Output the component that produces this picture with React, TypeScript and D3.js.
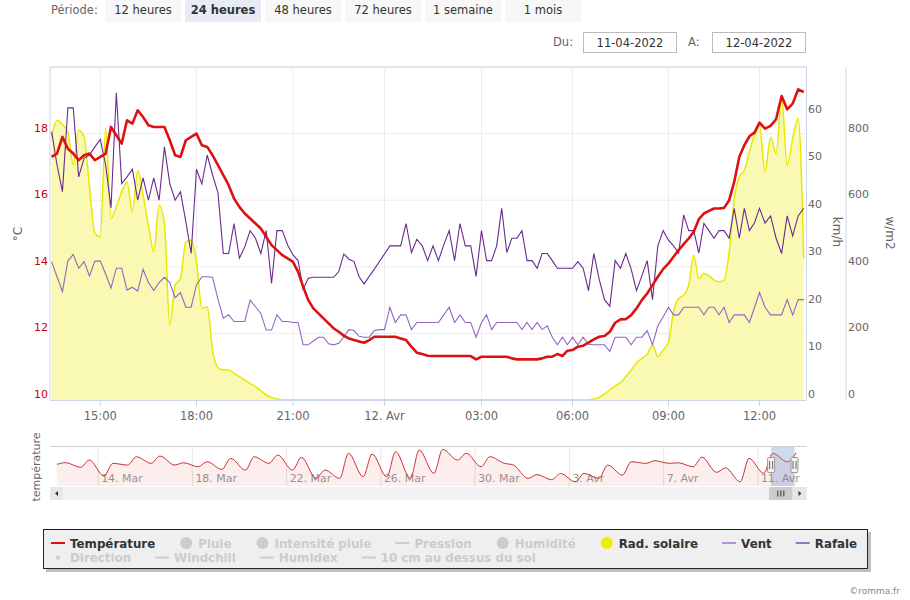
import React, { useEffect, useRef } from 'react';
import * as d3 from 'd3';

const FONT = "'DejaVu Sans', Verdana, sans-serif";

// relevés toutes les 10 minutes, du 11/04/2022 13:30 au 12/04/2022 13:20
const SERIES_START = new Date(2022, 3, 11, 13, 30);
const STEP_MINUTES = 10;

const temperature = [
  17.3, 17.4, 17.9, 17.55, 17.4, 17.2, 17.35, 17.4, 17.2, 17.3,
  17.4, 18.2, 17.95, 17.7, 18.4, 18.3, 18.7, 18.5, 18.25, 18.2,
  18.2, 18.2, 17.8, 17.35, 17.3, 17.8, 17.9, 18.0, 17.65, 17.6,
  17.35, 17.05, 16.75, 16.45, 16.05, 15.8, 15.6, 15.45, 15.3, 15.15,
  14.9, 14.65, 14.5, 14.35, 14.25, 14.15, 13.85, 13.4, 13.0, 12.75,
  12.6, 12.45, 12.3, 12.15, 12.05, 11.93, 11.85, 11.8, 11.76, 11.72,
  11.8, 11.9, 11.9, 11.9, 11.9, 11.9, 11.85, 11.8, 11.6, 11.42,
  11.38, 11.33, 11.32, 11.32, 11.32, 11.32, 11.32, 11.32, 11.32, 11.32,
  11.22, 11.3, 11.3, 11.3, 11.3, 11.3, 11.3, 11.25, 11.22, 11.22,
  11.22, 11.22, 11.22, 11.25, 11.3, 11.3, 11.38, 11.32, 11.48, 11.5,
  11.6, 11.63, 11.72, 11.82, 11.9, 11.92, 12.05, 12.32, 12.42, 12.43,
  12.55, 12.75, 13.0, 13.2, 13.45, 13.7, 13.93, 14.1, 14.3, 14.5,
  14.68, 14.85, 15.05, 15.43, 15.6, 15.68, 15.75, 15.75, 15.77, 16.0,
  16.55, 17.3, 17.65, 17.92, 18.03, 18.33, 18.15, 18.23, 18.43, 19.13,
  18.73, 18.9, 19.33, 19.25,
];

const rafale = [
  56.4, 49.4, 43.8, 61.4, 61.4, 46.9, 50.8, 51.5, 53.2, 54.8,
  49.4, 40.4, 64.6, 45.5, 46.9, 48.5, 42.0, 46.7, 42.0, 46.7,
  42.0, 53.2, 45.5, 42.0, 43.8, 37.5, 30.8, 48.5, 45.4, 51.5,
  47.3, 43.6, 30.8, 30.8, 37.1, 29.8, 32.2, 35.6, 34.0, 30.8,
  35.6, 24.5, 35.6, 35.6, 32.6, 30.5, 29.3, 23.3, 25.6, 25.8,
  25.8, 25.8, 25.8, 25.8, 27.0, 30.7, 29.6, 29.1, 25.9, 24.4,
  26.0, 27.5, 29.1, 30.7, 32.4, 32.4, 32.4, 37.1, 31.0, 33.8,
  32.4, 29.3, 32.4, 29.3, 32.6, 35.6, 29.3, 37.1, 32.4, 32.4,
  26.0, 35.6, 29.3, 29.3, 32.4, 40.3, 31.0, 34.0, 34.0, 35.6,
  29.3, 29.3, 27.7, 30.8, 30.8, 29.3, 27.7, 27.7, 27.7, 27.7,
  29.1, 27.7, 23.0, 30.8, 25.4, 21.1, 19.7, 29.3, 27.7, 30.8,
  27.5, 23.0, 26.1, 29.3, 21.1, 32.4, 35.6, 33.6, 32.4, 30.9,
  38.9, 35.6, 35.6, 30.9, 37.1, 35.6, 34.0, 35.6, 35.6, 34.0,
  40.3, 34.0, 40.3, 35.6, 37.2, 40.3, 37.2, 38.7, 34.0, 30.8,
  38.7, 34.5, 38.7, 40.3,
];

const vent = [
  29.1, 25.9, 22.8, 29.2, 30.6, 27.7, 29.1, 26.1, 29.2, 29.2,
  26.5, 23.5, 27.7, 27.7, 23.1, 23.7, 22.9, 27.5, 24.7, 23.0,
  24.7, 25.8, 24.7, 21.5, 22.6, 19.5, 19.5, 24.2, 25.9, 25.9,
  25.8, 21.2, 17.2, 17.9, 16.5, 16.5, 16.5, 21.0, 19.6, 18.2,
  14.7, 14.7, 17.9, 16.5, 16.5, 16.3, 16.3, 11.6, 11.6, 12.4,
  13.2, 13.2, 11.8, 11.6, 11.9, 13.3, 14.8, 14.6, 13.4, 13.2,
  13.2, 14.6, 14.8, 14.8, 19.5, 16.3, 17.9, 17.9, 14.8, 16.3,
  16.3, 16.3, 16.3, 16.3, 17.9, 19.5, 16.3, 17.9, 16.3, 16.3,
  13.2, 16.3, 17.9, 14.8, 16.3, 16.3, 16.3, 16.3, 16.3, 14.8,
  16.3, 14.8, 16.3, 14.8, 15.6, 13.2, 11.6, 13.2, 11.6, 13.2,
  11.6, 13.2, 11.7, 11.6, 11.6, 11.6, 10.2, 13.2, 13.2, 13.2,
  11.6, 13.2, 13.2, 14.6, 11.6, 15.6, 17.5, 19.5, 17.9, 17.9,
  19.5, 19.5, 19.5, 19.5, 17.9, 19.5, 19.5, 17.9, 19.5, 16.3,
  17.9, 17.9, 17.9, 16.3, 19.4, 22.6, 19.5, 17.9, 17.9, 17.9,
  21.1, 17.9, 21.1, 21.1,
];

const radSolaire = [
  790, 840, 827, 805, 707, 810, 790, 640, 500, 490,
  815, 545, 580, 625, 655, 565, 690, 615, 525, 445,
  585, 530, 225, 345, 365, 475, 480, 415, 275, 280,
  150, 97, 90, 90, 80, 70, 60, 50, 40, 28,
  15, 8, 3, 0, 0, 0, 0, 0, 0, 0,
  0, 0, 0, 0, 0, 0, 0, 0, 0, 0,
  0, 0, 0, 0, 0, 0, 0, 0, 0, 0,
  0, 0, 0, 0, 0, 0, 0, 0, 0, 0,
  0, 0, 0, 0, 0, 0, 0, 0, 0, 0,
  0, 0, 0, 0, 0, 0, 0, 0, 0, 0,
  0, 0, 0, 3, 8, 18, 30, 42, 52, 70,
  90, 112, 125, 137, 165, 130, 150, 175, 265, 305,
  315, 345, 435, 365, 380, 373, 360, 355, 360, 445,
  605, 670, 690, 745, 795, 825, 685, 790, 740, 910,
  705, 785, 845, 425,
];

const tempTicks = [10, 12, 14, 16, 18];
const ventTicks = [0, 10, 20, 30, 40, 50, 60];
const radTicks = [0, 200, 400, 600, 800];

const xTickDates = [
  new Date(2022, 3, 11, 15), new Date(2022, 3, 11, 18), new Date(2022, 3, 11, 21),
  new Date(2022, 3, 12, 0), new Date(2022, 3, 12, 3), new Date(2022, 3, 12, 6),
  new Date(2022, 3, 12, 9), new Date(2022, 3, 12, 12),
];
const xTickLabels = ['15:00', '18:00', '21:00', '12. Avr', '03:00', '06:00', '09:00', '12:00'];

// navigateur : température mini (06h) / maxi (15h) par jour, à partir du 12 mars
const NAV_START = new Date(2022, 2, 12);
const navMin = [
  9, 6.4, -1.3, 8.4, 9.9, 8.4, 6.9, 4.6, 4.0, 9.9,
  4.0, -3.3, -3.3, -1.9, -1.9, -3.3, 1.1, 12.8, 6.9, 9.9,
  -3.3, -4.5, -6.3, -3.3, -0.4, 9.9, 9.9, 6.9, 2.0, -6.3,
  1.1, 11.2,
];
const navMax = [
  10.5, 12.8, 9.9, 15.7, 16.3, 10.4, 11.3, 14.3, 15.7, 17.2,
  15.2, 4.0, 18.7, 18.1, 20.1, 21.6, 22.2, 18.7, 15.7, 8.4,
  0, 1, 1, 8.4, 11.3, 12.2, 10.4, 15.2, 6.0, 14.3,
  18.7, 19.3,
];
const navTickDates = [
  new Date(2022, 2, 14), new Date(2022, 2, 18), new Date(2022, 2, 22), new Date(2022, 2, 26),
  new Date(2022, 2, 30), new Date(2022, 3, 3), new Date(2022, 3, 7), new Date(2022, 3, 11),
];
const navTickLabels = ['14. Mar', '18. Mar', '22. Mar', '26. Mar', '30. Mar', '3. Avr', '7. Avr', '11. Avr'];

const periodes = ['12 heures', '24 heures', '48 heures', '72 heures', '1 semaine', '1 mois'];
const periodeActive = '24 heures';

const legendRow1 = [
  { name: 'Température', symbol: 'line', on: true },
  { name: 'Pluie', symbol: 'circle', on: false },
  { name: 'Intensité pluie', symbol: 'circle', on: false },
  { name: 'Pression', symbol: 'line', on: false },
  { name: 'Humidité', symbol: 'circle', on: false },
  { name: 'Rad. solaire', symbol: 'circle', on: true },
  { name: 'Vent', symbol: 'line', on: true },
  { name: 'Rafale', symbol: 'line', on: true },
];
const legendRow2 = [
  { name: 'Direction', symbol: 'dot', on: false },
  { name: 'Windchill', symbol: 'line', on: false },
  { name: 'Humidex', symbol: 'line', on: false },
  { name: '10 cm au dessus du sol', symbol: 'line', on: false },
];

const COLORS = {
  'Température': '#dd1111',
  'Rad. solaire': '#eeee00',
  'Vent': '#b394d8',
  'Rafale': '#9a76c6',
};

const App = () => {
  const svgRef = useRef<SVGSVGElement>(null);

  useEffect(() => {
    const svg = d3.select(svgRef.current);
    svg.selectAll('*').remove();

    const left = 50;
    const right = 806.5;
    const top = 67;
    const bottom = 400;

    const times = temperature.map((_, i) => d3.timeMinute.offset(SERIES_START, i * STEP_MINUTES));

    // axe "ordinal" de Highstock : espacement un peu irrégulier entre les repères
    const x = d3.scaleTime()
      .domain([new Date(2022, 3, 11, 13, 27), ...xTickDates, new Date(2022, 3, 12, 13, 25)])
      .range([left, 100.3, 196.5, 293, 384.5, 481.5, 572.5, 668.5, 759.5, right]);

    const yT = d3.scaleLinear().domain([10, 20]).range([bottom, top]);
    const yW = d3.scaleLinear().domain([0, 70]).range([bottom, top]);
    const yR = d3.scaleLinear().domain([0, 1000]).range([bottom, top]);

    // ---- barre de période
    svg.append('text').attr('x', 51).attr('y', 14).attr('font-size', 11.5).attr('fill', '#666').text('Période:');
    periodes.forEach((p, i) => {
      const bx = 105 + i * 80;
      const active = p === periodeActive;
      svg.append('rect').attr('x', bx).attr('y', 0).attr('width', 76).attr('height', 22)
        .attr('fill', active ? '#e6ebf5' : '#f7f7f7');
      svg.append('text').attr('x', bx + 38).attr('y', 14).attr('text-anchor', 'middle')
        .attr('font-size', 11.5).attr('font-weight', active ? 'bold' : 'normal').attr('fill', '#333').text(p);
    });

    svg.append('text').attr('x', 553).attr('y', 46).attr('font-size', 11.5).attr('fill', '#666').text('Du:');
    svg.append('text').attr('x', 688).attr('y', 46).attr('font-size', 11.5).attr('fill', '#666').text('A:');
    [[583, '11-04-2022'], [712, '12-04-2022']].forEach(([bx, txt]) => {
      svg.append('rect').attr('x', (bx as number) + 0.5).attr('y', 32.5).attr('width', 93).attr('height', 20)
        .attr('fill', '#fff').attr('stroke', '#bbb');
      svg.append('text').attr('x', (bx as number) + 47).attr('y', 46.5).attr('text-anchor', 'middle')
        .attr('font-size', 11.5).attr('fill', '#333').text(txt as string);
    });

    // ---- grille
    const grid = svg.append('g');
    tempTicks.filter((t) => t > 10).forEach((t) => {
      grid.append('line').attr('x1', left).attr('x2', right).attr('y1', yT(t)).attr('y2', yT(t))
        .attr('stroke', '#ececec');
    });
    grid.append('line').attr('x1', left).attr('x2', right).attr('y1', top).attr('y2', top)
      .attr('stroke', '#d6dee9').attr('stroke-width', 1.5);
    xTickDates.forEach((d) => {
      grid.append('line').attr('x1', x(d)).attr('x2', x(d)).attr('y1', top).attr('y2', bottom)
        .attr('stroke', '#ebedf2');
    });

    // ---- séries
    svg.append('clipPath').attr('id', 'plotClip').append('rect')
      .attr('x', left).attr('y', top - 2).attr('width', right - left).attr('height', bottom - top + 2);
    const plot = svg.append('g').attr('clip-path', 'url(#plotClip)');

    const radArea = d3.area<number>()
      .x((_, i) => x(times[i]))
      .y0(bottom)
      .y1((d) => yR(d))
      .curve(d3.curveMonotoneX);
    plot.append('path').datum(radSolaire).attr('d', radArea).attr('fill', '#f9f9b3');
    const radLine = d3.line<number>().x((_, i) => x(times[i])).y((d) => yR(d)).curve(d3.curveMonotoneX);
    plot.append('path').datum(radSolaire).attr('d', radLine).attr('fill', 'none')
      .attr('stroke', '#e8e800').attr('stroke-width', 1.5);

    const windLine = d3.line<number>().x((_, i) => x(times[i])).y((d) => yW(d));
    plot.append('path').datum(vent).attr('d', windLine).attr('fill', 'none')
      .attr('stroke', '#9466c2').attr('stroke-width', 1.1);
    plot.append('path').datum(rafale).attr('d', windLine).attr('fill', 'none')
      .attr('stroke', '#6a2a8e').attr('stroke-width', 1.1);

    const tempLine = d3.line<number>().x((_, i) => x(times[i])).y((d) => yT(d));
    plot.append('path').datum(temperature).attr('d', tempLine).attr('fill', 'none')
      .attr('stroke', COLORS['Température']).attr('stroke-width', 2.6).attr('stroke-linejoin', 'round');

    // ---- axes
    const axisColor = '#ccd6eb';
    svg.append('line').attr('x1', left).attr('x2', left).attr('y1', top).attr('y2', bottom).attr('stroke', axisColor);
    svg.append('line').attr('x1', right).attr('x2', right).attr('y1', top).attr('y2', bottom).attr('stroke', axisColor);
    svg.append('line').attr('x1', 846).attr('x2', 846).attr('y1', top).attr('y2', bottom).attr('stroke', axisColor);
    svg.append('line').attr('x1', left).attr('x2', right).attr('y1', bottom + 0.5).attr('y2', bottom + 0.5).attr('stroke', axisColor);

    xTickDates.forEach((d, i) => {
      svg.append('line').attr('x1', x(d)).attr('x2', x(d)).attr('y1', bottom).attr('y2', bottom + 6).attr('stroke', axisColor);
      svg.append('text').attr('x', x(d)).attr('y', 420).attr('text-anchor', 'middle')
        .attr('font-size', 11.5).attr('fill', '#666').text(xTickLabels[i]);
    });

    tempTicks.forEach((t) => {
      svg.append('text').attr('x', 48).attr('y', yT(t) - 2).attr('text-anchor', 'end')
        .attr('font-size', 11).attr('fill', '#cc0000').text(t);
    });
    ventTicks.forEach((t) => {
      svg.append('text').attr('x', 808).attr('y', yW(t) - 2)
        .attr('font-size', 11).attr('fill', '#666').text(t);
    });
    radTicks.forEach((t) => {
      svg.append('text').attr('x', 848).attr('y', yR(t) - 2)
        .attr('font-size', 11).attr('fill', '#666').text(t);
    });

    svg.append('text').attr('transform', 'translate(22,234) rotate(-90)').attr('text-anchor', 'middle')
      .attr('font-size', 12).attr('fill', '#666').text('°C');
    svg.append('text').attr('transform', 'translate(833,232) rotate(90)').attr('text-anchor', 'middle')
      .attr('font-size', 12).attr('fill', '#666').text('km/h');
    svg.append('text').attr('transform', 'translate(886,233) rotate(90)').attr('text-anchor', 'middle')
      .attr('font-size', 12).attr('fill', '#666').text('w/m2');

    // ---- navigateur
    const navTop = 447;
    const navBottom = 486;
    const navX = d3.scaleTime().domain([NAV_START, new Date(2022, 3, 13)]).range([51, 805]);
    const navY = d3.scaleLinear().domain([-10, 22.5]).range([navBottom, navTop + 2]);
    const navPts = navMin.flatMap((mn, i) => [
      { t: new Date(2022, 2, 12 + i, 6), v: mn },
      { t: new Date(2022, 2, 12 + i, 15), v: navMax[i] },
    ]);

    svg.append('clipPath').attr('id', 'navClip').append('rect')
      .attr('x', left).attr('y', navTop).attr('width', right - left).attr('height', navBottom - navTop);
    const nav = svg.append('g');
    navTickDates.forEach((d, i) => {
      nav.append('line').attr('x1', navX(d)).attr('x2', navX(d)).attr('y1', navTop).attr('y2', navBottom)
        .attr('stroke', '#e6e6e6');
      nav.append('text').attr('x', navX(d) + 3).attr('y', 482).attr('font-size', 11).attr('fill', '#999')
        .text(navTickLabels[i]);
    });
    const navG = nav.append('g').attr('clip-path', 'url(#navClip)');
    const navArea = d3.area<any>().x((d) => navX(d.t)).y0(navBottom).y1((d) => navY(d.v)).curve(d3.curveMonotoneX);
    const navLine = d3.line<any>().x((d) => navX(d.t)).y((d) => navY(d.v)).curve(d3.curveMonotoneX);
    navG.append('path').datum(navPts).attr('d', navArea).attr('fill', 'rgba(230,40,40,0.08)');
    navG.append('path').datum(navPts).attr('d', navLine).attr('fill', 'none').attr('stroke', '#c83232').attr('stroke-width', 1);
    nav.append('line').attr('x1', left).attr('x2', right).attr('y1', navTop - 0.5).attr('y2', navTop - 0.5)
      .attr('stroke', '#cfcfcf');

    const selA = navX(times[0]);
    const selB = navX(times[times.length - 1]);
    nav.append('rect').attr('x', selA).attr('y', navTop).attr('width', selB - selA).attr('height', navBottom - navTop)
      .attr('fill', 'rgba(102,133,194,0.3)');
    [selA, selB].forEach((hx) => {
      nav.append('rect').attr('x', hx - 3.5).attr('y', 457.5).attr('width', 7).attr('height', 15).attr('rx', 1)
        .attr('fill', '#f2f2f2').attr('stroke', '#999');
      [-1.5, 1.5].forEach((o) => {
        nav.append('line').attr('x1', hx + o).attr('x2', hx + o).attr('y1', 461).attr('y2', 469).attr('stroke', '#666');
      });
    });

    nav.append('text').attr('transform', 'translate(40,467) rotate(-90)').attr('text-anchor', 'middle')
      .attr('font-size', 11).attr('fill', '#666').text('température');

    // ---- barre de défilement
    const sbY = 487;
    const sbH = 13;
    nav.append('rect').attr('x', left).attr('y', sbY).attr('width', right - left).attr('height', sbH).attr('fill', '#f2f2f2');
    nav.append('rect').attr('x', left).attr('y', sbY).attr('width', sbH).attr('height', sbH).attr('fill', '#e6e6e6');
    nav.append('rect').attr('x', right - sbH).attr('y', sbY).attr('width', sbH).attr('height', sbH).attr('fill', '#e6e6e6');
    nav.append('path').attr('d', `M${left + 8},${sbY + 4} L${left + 5},${sbY + 6.5} L${left + 8},${sbY + 9} Z`).attr('fill', '#333');
    nav.append('path').attr('d', `M${right - 8},${sbY + 4} L${right - 5},${sbY + 6.5} L${right - 8},${sbY + 9} Z`).attr('fill', '#333');
    nav.append('rect').attr('x', selA - 2).attr('y', sbY).attr('width', selB - selA).attr('height', sbH).attr('fill', '#cccccc');
    const thumbMid = (selA + selB) / 2 - 2;
    [-3, 0, 3].forEach((o) => {
      nav.append('line').attr('x1', thumbMid + o).attr('x2', thumbMid + o).attr('y1', sbY + 3.5).attr('y2', sbY + 9.5)
        .attr('stroke', '#333');
    });

    // ---- légende
    const lg = svg.append('g');
    lg.append('rect').attr('x', 46).attr('y', 532).attr('width', 825).attr('height', 40).attr('fill', '#000').attr('opacity', 0.25);
    lg.append('rect').attr('x', 43.5).attr('y', 529.5).attr('width', 824).attr('height', 39)
      .attr('fill', '#efefef').attr('stroke', '#222');
    [legendRow1, legendRow2].forEach((row, r) => {
      const cy = r === 0 ? 543 : 557.5;
      let cx = 51;
      row.forEach((item) => {
        const col = item.on ? (COLORS as any)[item.name] : '#cccccc';
        if (item.symbol === 'line') {
          lg.append('line').attr('x1', cx).attr('x2', cx + 14).attr('y1', cy).attr('y2', cy)
            .attr('stroke', col).attr('stroke-width', 2);
        } else if (item.symbol === 'circle') {
          lg.append('circle').attr('cx', cx + 7).attr('cy', cy).attr('r', 6).attr('fill', col);
        } else {
          lg.append('circle').attr('cx', cx + 7).attr('cy', cy).attr('r', 2).attr('fill', col);
        }
        const t = lg.append('text').attr('x', cx + 19).attr('y', cy + 4.5)
          .attr('font-size', 11.85).attr('font-weight', 'bold').attr('fill', item.on ? '#333' : '#cccccc')
          .text(item.name);
        const w = (t.node() as SVGTextElement).getComputedTextLength();
        cx += 19 + w + 24;
      });
    });

    svg.append('text').attr('x', 900).attr('y', 594).attr('text-anchor', 'end')
      .attr('font-size', 9).attr('fill', '#888').text('©romma.fr');
  }, []);

  return (
    <svg
      ref={svgRef}
      width={910}
      height={600}
      style={{ position: 'absolute', left: 0, top: 0, background: '#fff' }}
      fontFamily={FONT}
    ></svg>
  );
};

export default App;
